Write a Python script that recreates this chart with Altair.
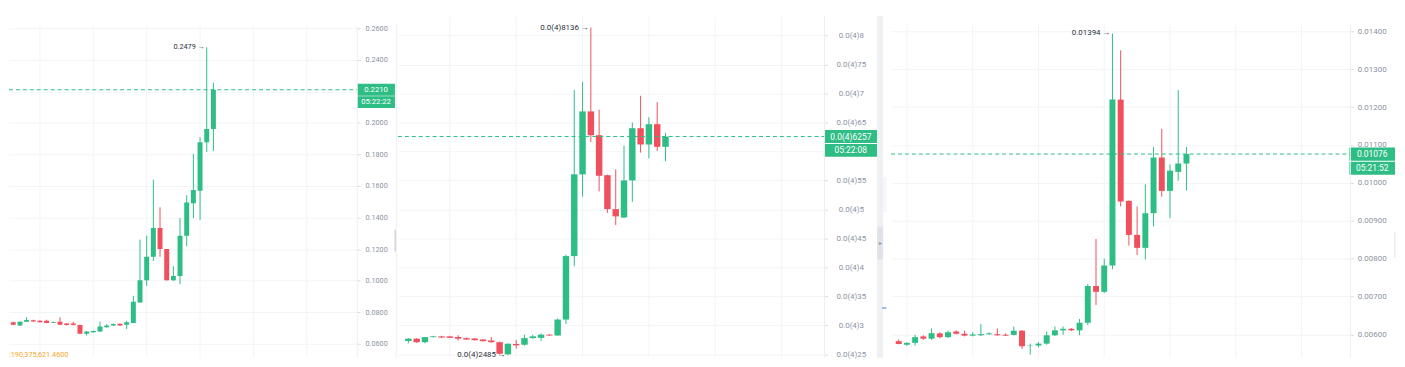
import altair as alt
import pandas as pd

GREEN = "#2ebd85"
RED = "#f0505d"
GRID = "#f3f4f6"
EDGE = "#eceef1"
LABEL = "#8b93a1"
DARK = "#2b3139"
FONT = "Roboto"
H = 351

# ---------------- panel 1 ----------------
p1_open = [0.0736, 0.0715, 0.0740, 0.0749, 0.0745, 0.0745, 0.0733, 0.0740, 0.0728, 0.0728,
           0.0719, 0.0663, 0.0673, 0.0677, 0.0705, 0.0715, 0.0726, 0.0720, 0.0732, 0.0862,
           0.1002, 0.1151, 0.1333, 0.1201, 0.1002, 0.1029, 0.1285, 0.1490, 0.1570, 0.1878, 0.1961]
p1_high = [0.0740, 0.0742, 0.0768, 0.0752, 0.0748, 0.0752, 0.0741, 0.0768, 0.0730, 0.0740,
           0.0721, 0.0680, 0.0684, 0.0740, 0.0724, 0.0728, 0.0729, 0.0745, 0.0904, 0.1260,
           0.1285, 0.1640, 0.1465, 0.1201, 0.1092, 0.1396, 0.1542, 0.1804, 0.1909, 0.2479, 0.2255]
p1_low = [0.0717, 0.0713, 0.0738, 0.0739, 0.0735, 0.0730, 0.0731, 0.0718, 0.0716, 0.0716,
          0.0663, 0.0652, 0.0670, 0.0675, 0.0702, 0.0713, 0.0713, 0.0694, 0.0730, 0.0860,
          0.0967, 0.1124, 0.1151, 0.1000, 0.0998, 0.0977, 0.1218, 0.1396, 0.1385, 0.1815, 0.1821]
p1_close = [0.0720, 0.0740, 0.0750, 0.0741, 0.0737, 0.0732, 0.0738, 0.0720, 0.0718, 0.0718,
            0.0663, 0.0677, 0.0681, 0.0709, 0.0715, 0.0725, 0.0715, 0.0736, 0.0866, 0.1002,
            0.1151, 0.1333, 0.1201, 0.1002, 0.1029, 0.1285, 0.1496, 0.1574, 0.1878, 0.1961, 0.2210]
p1_ticks = [0.06, 0.08, 0.10, 0.12, 0.14, 0.16, 0.18, 0.20, 0.22, 0.24, 0.26]
p1_hidden = 0.22
p1_last, p1_last_text, p1_timer = 0.2210, "0.2210", "05:22:22"
p1_notes = [(29, 0.2479, "0.2479 →")]
p1_volume = ":190,375,621.4600"

# ---------------- panel 2 (values in units of 1e-6) ----------------
p2_open = [27.3, 27.7, 27.1, 27.97, 28.1, 28.1, 28.0, 27.8, 27.74, 27.57, 27.4, 27.1, 25.0, 26.8, 26.65, 27.8,
           27.85, 28.4, 28.25, 31.0, 41.95, 56.05, 66.9, 62.8, 55.9, 50.05, 48.6, 55.0, 64.0, 61.2, 64.7, 60.8]
p2_high = [27.8, 27.8, 28.0, 28.2, 28.2, 28.2, 28.3, 27.9, 27.8, 27.6, 28.0, 27.2, 26.9, 27.5, 28.4, 28.4,
           28.6, 28.5, 31.2, 42.2, 70.6, 72.0, 81.36, 67.2, 56.0, 56.9, 61.0, 65.0, 69.6, 65.9, 68.5, 63.2]
p2_low = [26.9, 27.0, 26.9, 27.9, 27.8, 27.8, 27.4, 27.5, 27.4, 27.2, 27.0, 24.95, 24.85, 26.0, 26.5, 27.7,
          27.3, 28.2, 28.2, 30.25, 40.2, 52.2, 61.6, 53.1, 49.4, 47.3, 48.5, 51.3, 59.8, 58.8, 60.1, 58.3]
p2_close = [27.7, 27.1, 27.97, 28.1, 27.9, 27.85, 27.7, 27.55, 27.45, 27.28, 27.1, 25.1, 26.83, 26.55, 27.8, 28.1,
            28.4, 28.25, 31.0, 41.95, 56.05, 66.9, 62.8, 55.8, 50.05, 48.8, 55.0, 64.0, 61.2, 64.7, 60.8, 62.57]
p2_ticks = [25, 30, 35, 40, 45, 50, 55, 60, 65, 70, 75, 80]
p2_hidden = 60
p2_last, p2_last_text, p2_timer = 62.57, "0.0(4)6257", "05:22:08"
p2_notes = [(22, 81.36, "0.0(4)8136 →"), (12, 24.85, "0.0(4)2485 →")]

# ---------------- panel 3 ----------------
p3_open = [0.005825, 0.005730, 0.005780, 0.005950, 0.005890, 0.006030, 0.005930, 0.006080, 0.006020,
           0.005970, 0.005980, 0.006005, 0.006010, 0.005995, 0.005990, 0.006100, 0.005700, 0.005710,
           0.005760, 0.005980, 0.006110, 0.006150, 0.006110, 0.006310, 0.007280, 0.007126, 0.007820,
           0.012196, 0.009525, 0.008627, 0.008286, 0.009200, 0.010668, 0.009787, 0.010290, 0.010510]
p3_high = [0.005870, 0.005790, 0.005990, 0.005980, 0.006160, 0.006060, 0.006100, 0.006110, 0.006100,
           0.006060, 0.006280, 0.006060, 0.006160, 0.006030, 0.006210, 0.006120, 0.005760, 0.005800,
           0.006080, 0.006210, 0.006210, 0.006170, 0.006410, 0.007330, 0.008520, 0.008000, 0.013940,
           0.013496, 0.009540, 0.009377, 0.009960, 0.010948, 0.011428, 0.010485, 0.012449, 0.010948]
p3_low = [0.005740, 0.005700, 0.005710, 0.005860, 0.005860, 0.005900, 0.005910, 0.006000, 0.005950,
          0.005950, 0.005960, 0.005990, 0.005970, 0.005960, 0.005980, 0.005620, 0.005470, 0.005660,
          0.005730, 0.005960, 0.005990, 0.006090, 0.005980, 0.006250, 0.006780, 0.007090, 0.007720,
          0.009377, 0.008347, 0.008100, 0.007980, 0.008850, 0.009639, 0.009070, 0.010058, 0.009796]
p3_close = [0.005750, 0.005780, 0.005930, 0.005890, 0.006035, 0.005930, 0.006060, 0.006020, 0.005970,
            0.006000, 0.006010, 0.006030, 0.005980, 0.005970, 0.006100, 0.005690, 0.005710, 0.005760,
            0.005980, 0.006110, 0.006150, 0.006110, 0.006310, 0.007280, 0.007126, 0.007820, 0.012196,
            0.009508, 0.008627, 0.008286, 0.009200, 0.010668, 0.009787, 0.010320, 0.010510, 0.010760]
p3_ticks = [0.006, 0.007, 0.008, 0.009, 0.010, 0.011, 0.012, 0.013, 0.014]
p3_last, p3_last_text, p3_timer = 0.01076, "0.01076", "05:21:52"
p3_notes = [(26, 0.01394, "0.01394 →")]


def ohlc(o, h, l, c):
    return pd.DataFrame({
        "i": list(range(len(o))), "open": o, "high": h, "low": l, "close": c,
        "dir": ["up" if cc >= oo else "down" for oo, cc in zip(o, c)],
    })


color = alt.Color("dir:N", scale=alt.Scale(domain=["up", "down"], range=[GREEN, RED]), legend=None)
one = pd.DataFrame({"k": [0]})


def vrule(x, y1, y2, col, sw=1):
    return alt.Chart(one).mark_rule(color=col, strokeWidth=sw).encode(
        x=alt.value(x), y=alt.value(y1), y2=alt.value(y2))


def vrect(x1, x2, y1, y2, col):
    return alt.Chart(one).mark_rect(color=col).encode(
        x=alt.value(x1), x2=alt.value(x2), y=alt.value(y1), y2=alt.value(y2))


def panel(df, width, xdom, ydom, yax, grid_idx, grid_top, body_w, last, last_text, timer,
          box_x, box_w, box_h, box_gap, fs, notes, clip, extras):
    xs = alt.Scale(domain=xdom, nice=False, zero=False)
    ys = alt.Scale(domain=ydom, nice=False, zero=False)

    def Y(f):
        return alt.Y(f, type="quantitative", scale=ys, axis=yax)

    grid = alt.Chart(pd.DataFrame({"g": grid_idx})).mark_rule(color=GRID, strokeWidth=1).encode(
        x=alt.X("g:Q", scale=xs, axis=None), y=alt.value(grid_top), y2=alt.value(H))
    base = alt.Chart(df)
    wick = base.mark_rule(strokeWidth=1, clip=clip).encode(
        x=alt.X("i:Q", scale=xs, axis=None), y=Y("low"), y2="high:Q", color=color)
    body = base.mark_bar(size=body_w, clip=clip).encode(
        x=alt.X("i:Q", scale=xs, axis=None), y=Y("open"), y2="close:Q", color=color)
    ldf = pd.DataFrame({"price": [last], "label": [last_text], "timer": [timer]})
    lb = alt.Chart(ldf)
    dash = lb.mark_rule(strokeDash=[4, 3], color=GREEN, strokeWidth=1).encode(
        y=Y("price"), x=alt.value(0), x2=alt.value(width))
    box1 = lb.mark_tick(orient="horizontal", size=box_w, thickness=box_h, color=GREEN, opacity=1).encode(
        x=alt.value(box_x), y=Y("price"))
    box2 = lb.mark_tick(orient="horizontal", size=box_w, thickness=box_h, color=GREEN, opacity=1,
                        yOffset=box_gap).encode(x=alt.value(box_x), y=Y("price"))
    t1 = lb.mark_text(color="white", font=FONT, fontSize=fs + 0.5, align="center", baseline="middle").encode(
        x=alt.value(box_x), y=Y("price"), text="label:N")
    t2 = lb.mark_text(color="white", font=FONT, fontSize=fs + 0.5, align="center", baseline="middle",
                      dy=box_gap).encode(x=alt.value(box_x), y=Y("price"), text="timer:N")
    ndf = pd.DataFrame({"i": [n[0] for n in notes], "price": [n[1] for n in notes], "t": [n[2] for n in notes]})
    note = alt.Chart(ndf).mark_text(align="right", baseline="middle", dx=-2, font=FONT, fontSize=fs,
                                    color=DARK).encode(
        x=alt.X("i:Q", scale=xs, axis=None), y=Y("price"), text="t:N")
    layers = [grid, wick, body, dash, box1, box2, t1, t2, note] + extras
    return alt.layer(*layers).properties(width=width, height=H)


def yaxis(values, pad, extent, fs, expr):
    return alt.Axis(orient="right", values=values, grid=True, gridColor=GRID, gridWidth=1, domain=False,
                    ticks=True, tickSize=3, tickColor="#d9dce1", labelColor=LABEL, labelFont=FONT,
                    labelFontSize=fs, labelAlign="center", labelBaseline="middle", labelPadding=pad,
                    minExtent=extent, maxExtent=extent, title=None, labelOverlap=False, labelExpr=expr)


# panel 1
vol = alt.Chart(pd.DataFrame({"t": [p1_volume]})).mark_text(
    align="left", baseline="middle", font=FONT, fontSize=7.3, color="#f4a62a").encode(
    x=alt.value(0), y=alt.value(H - 3), text="t:N")
ch1 = panel(ohlc(p1_open, p1_high, p1_low, p1_close), 351, [0.101, 50.82], [0.051195, 0.27195],
            yaxis(p1_ticks, 16, 40, 7.3,
                  f"abs(datum.value - {p1_hidden}) < 1e-9 ? '' : format(datum.value, '.4f')"),
            [4, 12, 20, 28, 36, 44], 17, 5,
            p1_last, p1_last_text, p1_timer, 370, 38, 12, 12.5, 7.3, p1_notes, True,
            [vrule(351, 17, H, EDGE), vol, vrule(390.3, 15, H, EDGE), vrule(389.3, 222, 244, "#d3d7dc", 1.5)])

# panel 2
ch2 = panel(ohlc(p2_open, p2_high, p2_low, p2_close), 430, [-0.6625, 49.577], [24.435, 84.5],
            yaxis(p2_ticks, 23.5, 66, 8,
                  f"datum.value == {p2_hidden} ? '' : '0.0(4)' + (datum.value % 10 == 0 ? "
                  "format(datum.value / 10, 'd') : format(datum.value, 'd'))"),
            [5, 13, 21, 29, 37, 45], 7, 6.5,
            p2_last, p2_last_text, p2_timer, 456.5, 53, 13, 14, 8, p2_notes, False,
            [vrule(430, 7, H, EDGE),
             vrect(483, 489, 7, H, "#eef0f3"),
             vrect(489, 493, 169, 204, "#f6f7f9"),
             vrect(483, 489, 219, 252, "#dfe2e6"),
             alt.Chart(pd.DataFrame({"t": ["▸"]})).mark_text(fontSize=6, color="#8f959e", align="center",
                                                              baseline="middle").encode(
                 x=alt.value(486), y=alt.value(235.5), text="t:N"),
             alt.Chart(one).mark_rule(color="#3a7bd5", strokeWidth=1).encode(
                 x=alt.value(488), x2=alt.value(492.5), y=alt.value(301))])

# panel 3
ch3 = panel(ohlc(p3_open, p3_high, p3_low, p3_close), 463, [-0.33, 54.334], [0.0053903, 0.0145757],
            yaxis(p3_ticks, 18.5, 47, 8, "format(datum.value, '.5f')"),
            [1, 9, 17, 25, 33, 41, 49], 14, 6,
            p3_last, p3_last_text, p3_timer, 485, 46, 13.3, 14.3, 8, p3_notes, False,
            [vrule(463, 14, H, EDGE), vrule(507.7, 224, 250, "#e3e6ea")])

chart = alt.hconcat(ch1, ch2, ch3, spacing=0).properties(
    padding=0, background="white"
).configure_view(stroke=None).configure_concat(spacing=0)

chart.save("out.html", embed_options={"renderer": "svg", "actions": False})
